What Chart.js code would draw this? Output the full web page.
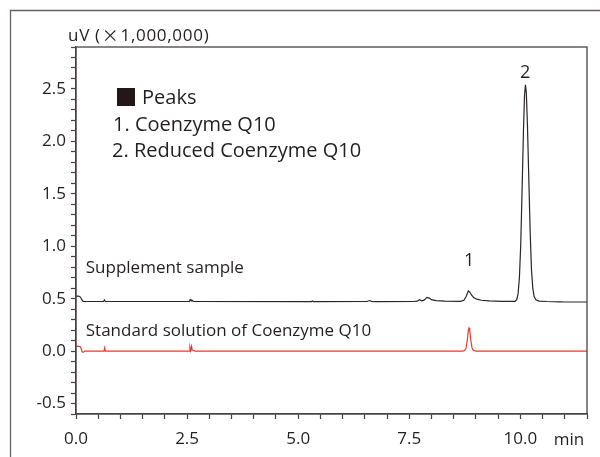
<!DOCTYPE html>
<html>
<head>
<meta charset="utf-8">
<script src="https://cdn.jsdelivr.net/npm/chart.js@4/dist/chart.umd.min.js"></script>
<style>
  html, body { margin: 0; padding: 0; background: #fff; }
  #wrap { width: 600px; height: 457px; position: relative; }
</style>
</head>
<body>
<div id="wrap"><canvas id="chromChart"></canvas></div>
<script>
// retention time (min) and signal (uV x 1,000,000)
const supplementTime = [0, 0.06, 0.1, 0.13, 0.16, 0.62, 0.64, 0.66, 2.55, 2.57, 2.59, 2.61, 2.64,
    5.3, 5.32, 5.34, 6.55, 6.6, 6.65, 6.75, 7.6, 7.68, 7.73, 7.78, 7.84, 7.9, 7.95, 8.0, 8.1, 8.3,
    8.65, 8.73, 8.78, 8.83, 8.86, 8.9, 8.95, 9.02, 9.12, 9.3, 9.6, 9.88, 9.92, 9.95, 9.98, 10.01,
    10.04, 10.07, 10.095, 10.115, 10.135, 10.16, 10.19, 10.22, 10.25, 10.28, 10.31, 10.35, 10.42,
    10.6, 10.9, 11.0, 11.5];
const supplementSignal = [0.525, 0.525, 0.515, 0.49, 0.474, 0.473, 0.488, 0.473, 0.473, 0.49, 0.478, 0.486, 0.474,
    0.472, 0.478, 0.472, 0.473, 0.482, 0.474, 0.472, 0.473, 0.476, 0.49, 0.48, 0.488, 0.512, 0.505, 0.49, 0.482, 0.476,
    0.474, 0.485, 0.52, 0.573, 0.565, 0.535, 0.51, 0.495, 0.485, 0.478, 0.474, 0.475, 0.49, 0.55, 0.71, 1.03,
    1.55, 2.1, 2.45, 2.54, 2.46, 2.15, 1.65, 1.15, 0.78, 0.6, 0.52, 0.49, 0.477,
    0.473, 0.47, 0.468, 0.468];

const standardTime = [0, 0.07, 0.1, 0.12, 0.14, 0.17, 0.2, 0.63, 0.645, 0.66, 2.55, 2.565, 2.58, 2.6, 2.615,
    2.64, 2.68, 8.7, 8.75, 8.78, 8.81, 8.83, 8.845, 8.86, 8.88, 8.91, 8.94, 9.0, 11.5];
const standardSignal = [0.045, 0.045, 0.04, 0.02, -0.008, -0.01, 0.0, 0.0, 0.03, 0.0, 0.0, 0.035, 0.005, 0.045, 0.01,
    0.008, 0.0, 0.0, 0.005, 0.03, 0.12, 0.2, 0.22, 0.2, 0.12, 0.035, 0.008, 0.0, 0.0];

const yLabelValues = [-0.5, 0.0, 0.5, 1.0, 1.5, 2.0, 2.5];
const xLabelValues = [0.0, 2.5, 5.0, 7.5, 10.0];
const peakNames = ['1. Coenzyme Q10', '2. Reduced Coenzyme Q10'];
const peakTimes = [8.85, 10.11];

const FONT = '"Open Sans", "Noto Sans", sans-serif';
const TEXT = '#231f20';
const AXIS = '#4a4242';

const toPoints = (t, s) => t.map((x, i) => ({ x: x, y: s[i] }));
const isLabel = (v, list) => list.some(l => Math.abs(l - v) < 1e-6);

const textPlugin = {
    id: 'chromText',
    afterDraw(chart) {
        const c = chart.ctx;
        const a = chart.chartArea;
        const xs = chart.scales.x;
        const ys = chart.scales.y;
        c.save();

        // outer frame (only top + left visible in the figure)
        c.strokeStyle = '#6a6262';
        c.lineWidth = 1.3;
        c.beginPath();
        c.moveTo(10.5, 457);
        c.lineTo(10.5, 10.5);
        c.lineTo(600, 10.5);
        c.stroke();

        // plot box
        c.strokeStyle = AXIS;
        c.lineWidth = 1.3;
        c.strokeRect(a.left, a.top, a.right - a.left, a.bottom - a.top);

        c.fillStyle = TEXT;
        c.textBaseline = 'middle';

        // unit label, the multiplication sign is a wide one in the figure
        c.textAlign = 'left';
        c.letterSpacing = '0.7px';
        c.font = '17px ' + FONT;
        let px = 68;
        c.fillText('uV (', px, 36);
        px += c.measureText('uV (').width + 1;
        c.font = '17px "Noto Sans CJK JP"';
        c.fillText('\u00d7', px, 36);
        px += c.measureText('\u00d7').width + 1;
        c.font = '17px ' + FONT;
        c.fillText('1,000,000)', px, 36);
        c.letterSpacing = '0px';

        c.textAlign = 'center';
        c.fillText('min', 569, a.bottom + 26);

        // legend
        c.font = '20px ' + FONT;
        c.textAlign = 'left';
        c.fillStyle = '#231815';
        c.fillRect(117, 88, 18, 18);
        c.fillStyle = TEXT;
        c.fillText('Peaks', 142, 98);
        c.fillText(peakNames[0], 113, 125);
        c.fillText(peakNames[1], 112, 151);

        // trace names
        c.font = '17px ' + FONT;
        c.fillText('Supplement sample', xs.getPixelForValue(0.22), ys.getPixelForValue(0.79));
        c.fillText('Standard solution of Coenzyme Q10', xs.getPixelForValue(0.22), ys.getPixelForValue(0.19));

        // peak numbers
        c.font = '18px ' + FONT;
        c.textAlign = 'center';
        c.fillText('1', xs.getPixelForValue(peakTimes[0]), ys.getPixelForValue(0.86));
        c.fillText('2', xs.getPixelForValue(peakTimes[1]), ys.getPixelForValue(2.65));
        c.restore();
    }
};

const ctx = document.getElementById('chromChart').getContext('2d');

new Chart(ctx, {
    type: 'scatter',
    data: {
        datasets: [
            {
                label: 'Supplement sample',
                data: toPoints(supplementTime, supplementSignal),
                showLine: true,
                borderColor: '#2b2626',
                borderWidth: 1.2,
                pointRadius: 0,
                tension: 0
            },
            {
                label: 'Standard solution of Coenzyme Q10',
                data: toPoints(standardTime, standardSignal),
                showLine: true,
                borderColor: '#e8382b',
                borderWidth: 1.2,
                pointRadius: 0,
                tension: 0
            }
        ]
    },
    options: {
        responsive: true,
        maintainAspectRatio: false,
        animation: false,
        layout: { padding: { top: 47, right: 13, left: 0, bottom: 0 } },
        plugins: {
            legend: { display: false },
            tooltip: { enabled: false }
        },
        scales: {
            x: {
                type: 'linear',
                min: 0,
                max: 11.5,
                afterFit: s => { s.height = 43; },
                border: { display: true, color: AXIS, width: 1.3 },
                grid: { drawOnChartArea: false, drawTicks: true, tickLength: 5, color: AXIS, tickWidth: 1.2 },
                ticks: {
                    stepSize: 0.5,
                    autoSkip: false,
                    maxRotation: 0,
                    padding: 10,
                    color: TEXT,
                    font: { family: FONT, size: 17 },
                    callback: v => isLabel(v, xLabelValues) ? v.toFixed(1) : ''
                }
            },
            y: {
                min: -0.6,
                max: 2.9,
                afterFit: s => { s.width = 76; },
                border: { display: true, color: AXIS, width: 1.3 },
                grid: { drawOnChartArea: false, drawTicks: true, tickLength: 5, color: AXIS, tickWidth: 1.2 },
                ticks: {
                    stepSize: 0.1,
                    autoSkip: false,
                    padding: 5,
                    color: TEXT,
                    font: { family: FONT, size: 17 },
                    callback: v => isLabel(v, yLabelValues) ? v.toFixed(1) : ''
                }
            }
        }
    },
    plugins: [textPlugin]
});
</script>
</body>
</html>
